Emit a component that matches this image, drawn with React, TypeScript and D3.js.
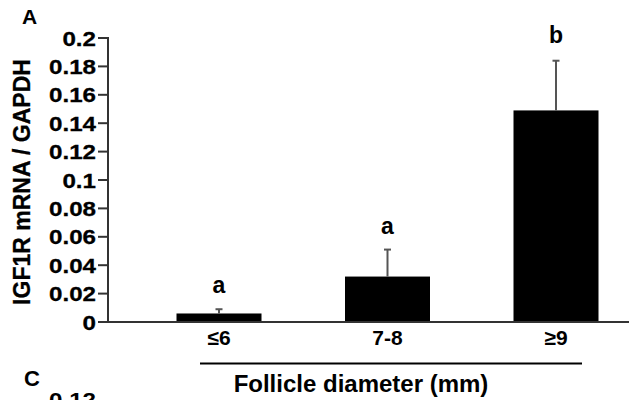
import React from "react";
import * as d3 from "d3";

const categories = ["≤6", "7-8", "≥9"];
const means = [0.006, 0.032, 0.149];
const errors = [0.003, 0.019, 0.035];
const letters = ["a", "a", "b"];
const letterAt = [0.0205, 0.062, 0.1965];
const yTicks = [0, 0.02, 0.04, 0.06, 0.08, 0.1, 0.12, 0.14, 0.16, 0.18, 0.2];

const W = 629;
const H = 400;
const font = "'Liberation Sans', Arial, sans-serif";

export default function App() {
  const y = d3.scaleLinear().domain([0, 0.2]).range([322, 38]);
  const x = d3.scalePoint<string>().domain(categories).range([219, 556]);
  const barW = 85;
  const axisX = 108;
  const fmt = (v: number) => (v === 0 ? "0" : d3.format("~g")(v));

  return (
    <svg
      width={W}
      height={H}
      style={{ position: "absolute", left: 0, top: 0, background: "#fff" }}
      fontFamily={font}
      fontWeight="bold"
      stroke="none"
    >
      {/* panel letters */}
      <text x={22} y={24} fontSize={21}>A</text>
      <text x={24} y={386} fontSize={22}>C</text>
      {/* next panel's top tick label, cut off by the frame */}
      <text transform="translate(96,407) scale(1.15,1)" textAnchor="end" fontSize={21}>0.12</text>

      {/* y axis title */}
      <text
        transform={`translate(30,182) rotate(-90)`}
        textAnchor="middle"
        fontSize={23}
        stroke="#000"
        strokeWidth={0.3}
      >
        IGF1R mRNA / GAPDH
      </text>

      {/* bars */}
      {categories.map((c, i) => (
        <rect
          key={c}
          x={x(c)! - barW / 2}
          y={y(means[i])}
          width={barW}
          height={y(0) - y(means[i])}
          fill="#000"
        />
      ))}

      {/* error bars */}
      {categories.map((c, i) => {
        const cx = x(c)!;
        const top = y(means[i] + errors[i]);
        return (
          <g key={c} stroke="#555" strokeWidth={2}>
            <line x1={cx} x2={cx} y1={y(means[i])} y2={top} />
            <line x1={cx - 3.5} x2={cx + 3.5} y1={top} y2={top} />
          </g>
        );
      })}

      {/* significance letters */}
      {categories.map((c, i) => (
        <text key={c} x={x(c)!} y={y(letterAt[i])} textAnchor="middle" fontSize={23}>
          {letters[i]}
        </text>
      ))}

      {/* y axis */}
      <line x1={axisX} x2={axisX} y1={y(0.2) - 1} y2={y(0)} stroke="#333" strokeWidth={2} />
      {yTicks.map((t) => (
        <g key={t}>
          <line x1={axisX - 10} x2={axisX} y1={y(t)} y2={y(t)} stroke="#333" strokeWidth={2} />
          <text
            transform={`translate(${axisX - 12},${y(t)}) scale(1.15,1)`}
            dy="0.36em"
            textAnchor="end"
            fontSize={21}
            stroke="#000"
            strokeWidth={0.3}
          >
            {fmt(t)}
          </text>
        </g>
      ))}

      {/* x axis */}
      <line x1={axisX} x2={W} y1={y(0)} y2={y(0)} stroke="#333" strokeWidth={2} />
      {categories.map((c) => (
        <text key={c} x={x(c)!} y={345} textAnchor="middle" fontSize={21}>
          {c}
        </text>
      ))}

      {/* group bracket and label */}
      <line x1={200} x2={582} y1={363.5} y2={363.5} stroke="#000" strokeWidth={2} />
      <text x={361} y={392} textAnchor="middle" fontSize={24}>
        Follicle diameter (mm)
      </text>
    </svg>
  );
}
